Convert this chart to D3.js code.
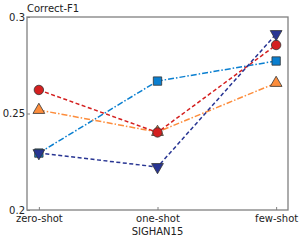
<!DOCTYPE html>
<html>
<head>
<meta charset="utf-8">
<script src="https://cdn.jsdelivr.net/npm/d3@7"></script>
<style>
  body { margin: 0; background: #fff; }
  text { font-family: "DejaVu Sans", sans-serif; }
</style>
</head>
<body>
<svg id="chart" width="300" height="240"></svg>
<script>
// Data
const categories = ['zero-shot', 'one-shot', 'few-shot'];
const yTicks = [0.2, 0.25, 0.3];
const seriesBlue = [0.2295, 0.2668, 0.2772];
const seriesOrange = [0.2518, 0.2404, 0.2658];
const seriesRed = [0.2622, 0.2402, 0.2855];
const seriesNavy = [0.2295, 0.2223, 0.2912];

const series = [
    { values: seriesBlue, color: '#0a7fd0', dash: '6,2,1.5,2', shape: d3.symbolSquare, size: 70 },
    { values: seriesOrange, color: '#fd8d3c', dash: '6,2,1.5,2', shape: d3.symbolTriangle, size: 60 },
    { values: seriesRed, color: '#d42020', dash: '4,2.5', shape: d3.symbolCircle, size: 70 },
    { values: seriesNavy, color: '#283593', dash: '4,2.5', shape: 'down', size: 60 }
];

const margin = { top: 17, right: 12, bottom: 30, left: 27 };
const width = 300 - margin.left - margin.right;
const height = 240 - margin.top - margin.bottom;

const svg = d3.select('#chart');
const g = svg.append('g').attr('transform', `translate(${margin.left},${margin.top})`);

const xScale = d3.scalePoint().domain(categories).range([0, width]).padding(0.1);
const yScale = d3.scaleLinear().domain([0.2, 0.3]).range([height, 0]);

// Frame
g.append('rect').attr('width', width).attr('height', height)
    .attr('fill', 'none').attr('stroke', '#808080').attr('stroke-width', 1.3);

// Axes (inward ticks)
const xAxis = g.append('g').attr('transform', `translate(0,${height})`)
    .call(d3.axisBottom(xScale).tickSizeInner(-3).tickSizeOuter(0).tickPadding(5));
const yAxis = g.append('g')
    .call(d3.axisLeft(yScale).tickValues(yTicks).tickFormat(d => d3.format('')(d)).tickSizeInner(-3).tickSizeOuter(0).tickPadding(2));
[xAxis, yAxis].forEach(a => {
    a.select('.domain').remove();
    a.selectAll('line').attr('stroke', '#808080');
    a.selectAll('text').attr('font-size', 10).attr('fill', '#222').attr('font-family', 'DejaVu Sans');
});

// Lines and markers
const line = d3.line().x((d, i) => xScale(categories[i])).y(d => yScale(d));
series.forEach(s => {
    g.append('path').datum(s.values)
        .attr('fill', 'none').attr('stroke', s.color).attr('stroke-width', 1.5)
        .attr('stroke-dasharray', s.dash).attr('d', line);
});
series.forEach(s => {
    const sym = d3.symbol().type(s.shape === 'down' ? d3.symbolTriangle : s.shape).size(s.size);
    g.selectAll(null).data(s.values).enter().append('path')
        .attr('d', sym)
        .attr('transform', (d, i) => `translate(${xScale(categories[i])},${yScale(d)})` + (s.shape === 'down' ? ' rotate(180)' : ''))
        .attr('fill', s.color).attr('stroke', '#333').attr('stroke-width', 0.8);
});

// Titles
svg.append('text').attr('x', margin.left).attr('y', 12)
    .attr('font-size', 10).attr('fill', '#222').text('Correct-F1');
svg.append('text').attr('x', margin.left + xScale('one-shot')).attr('y', 235)
    .attr('text-anchor', 'middle').attr('font-size', 10).attr('fill', '#222').text('SIGHAN15');
</script>
</body>
</html>
